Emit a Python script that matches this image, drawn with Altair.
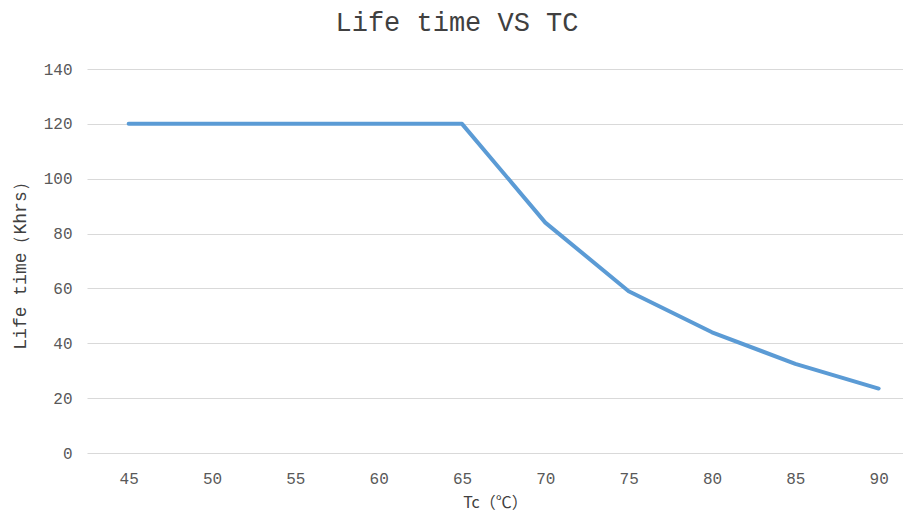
import altair as alt
import pandas as pd

tc = [45, 50, 55, 60, 65, 70, 75, 80, 85, 90]
life = [120, 120, 120, 120, 120, 84, 59, 44, 32.5, 23.5]

df = pd.DataFrame({"Tc": tc, "Life": life})

chart = alt.Chart(df).mark_line(color="#5b9bd5", strokeWidth=4, strokeCap="round", strokeJoin="round").encode(
    x=alt.X("Tc:Q",
            scale=alt.Scale(domain=[42.5, 91.46], nice=False, zero=False, clamp=True),
            axis=alt.Axis(values=tc, title="Tc（℃）", grid=False, domain=False, ticks=False,
                          labelPadding=17, labelFontSize=16, labelColor="#595959", labelFont="Liberation Mono",
                          titleFont="Noto Sans CJK SC", titleFontSize=16, titleFontWeight="normal",
                          titleColor="#404040", titlePadding=8)),
    y=alt.Y("Life:Q",
            scale=alt.Scale(domain=[0, 140], nice=False),
            axis=alt.Axis(values=[0, 20, 40, 60, 80, 100, 120, 140], title="Life time（Khrs）",
                          grid=True, gridColor="#d9d9d9", gridWidth=1, domain=False, ticks=False,
                          labelPadding=15, labelFontSize=16, labelColor="#595959", labelFont="Liberation Mono",
                          titleFont="Liberation Mono", titleFontSize=18, titleFontWeight="normal",
                          titleColor="#404040", titlePadding=14)),
).properties(
    width=816,
    height=384,
    title=alt.Title("Life time VS TC", font="Liberation Mono", fontSize=27, fontWeight="normal",
                    color="#404040", anchor="middle", offset=24, dx=-38),
    autosize=alt.AutoSizeParams(type="none"),
    padding={"left": 79, "top": 61, "right": 0, "bottom": 58},
).configure_view(stroke=None)

chart.save("out.html", embed_options={"renderer": "svg", "actions": False})
